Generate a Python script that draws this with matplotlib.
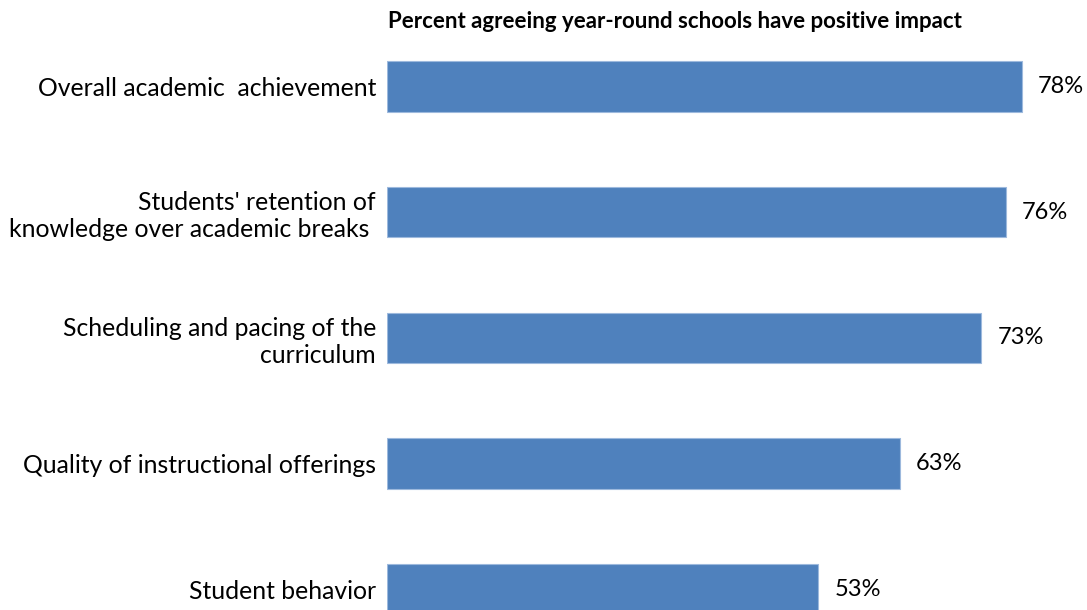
import matplotlib
matplotlib.use("Agg")
import matplotlib.pyplot as plt

categories = [
    "Overall academic  achievement",
    "Students' retention of\nknowledge over academic breaks ",
    "Scheduling and pacing of the\ncurriculum",
    "Quality of instructional offerings",
    "Student behavior",
]
values = [78, 76, 73, 63, 53]
value_labels = ["78%", "76%", "73%", "63%", "53%"]
title = "Percent agreeing year-round schools have positive impact"

plt.rcParams["font.family"] = ["Lato", "DejaVu Sans"]

W, H = 1087, 610
fig = plt.figure(figsize=(W / 100, H / 100), dpi=100)
ax = fig.add_axes([387 / W, 0, 700 / W, 1])

bar_color = "#4F81BD"
pos = list(range(len(values)))
ax.barh(pos, values, height=0.4, color=bar_color, edgecolor="#9DB9DD", linewidth=0.8)

ax.set_xlim(0, 86.0)
ax.set_ylim(4.167, -0.689)

for p, v, lab in zip(pos, values, value_labels):
    ax.text(v + 2.0, p, lab, va="center", ha="left", fontsize=17, color="#000000")

ax.set_yticks(pos)
ax.set_yticklabels(categories, fontsize=17.8, ha="right", linespacing=1.2)
ax.tick_params(axis="y", length=0, pad=8)
ax.set_xticks([])
for s in ax.spines.values():
    s.set_visible(False)

fig.text(675 / W, 1 - 22 / H, title, ha="center", va="center",
         fontsize=16, fontweight="bold", color="#000000")

fig.savefig("out.png", dpi=100, facecolor="white")
